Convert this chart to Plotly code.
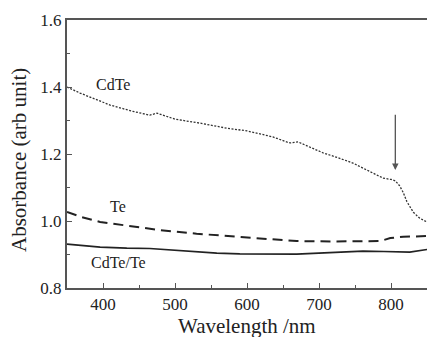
import plotly.graph_objects as go

# CdTe (dotted)
cdte_wl = [350, 368, 390, 410, 440, 465, 475, 500, 535, 572, 600, 636, 655, 660, 671,
           690, 706, 725, 747, 775, 789, 800, 806, 812, 817, 822, 831, 840, 850]
cdte_abs = [1.400, 1.382, 1.363, 1.346, 1.328, 1.316, 1.322, 1.304, 1.292, 1.277, 1.269,
            1.251, 1.236, 1.233, 1.236, 1.218, 1.203, 1.190, 1.173, 1.143, 1.128, 1.124,
            1.120, 1.105, 1.085, 1.058, 1.026, 1.008, 0.997]

# Te (dashed)
te_wl = [350, 370, 396, 430, 479, 530, 590, 630, 669, 720, 785, 799, 817, 850]
te_abs = [1.027, 1.012, 0.997, 0.988, 0.973, 0.962, 0.952, 0.945, 0.940, 0.939, 0.940,
          0.949, 0.953, 0.955]

# CdTe/Te (solid)
ct_wl = [350, 396, 433, 465, 558, 590, 669, 720, 761, 790, 826, 850]
ct_abs = [0.931, 0.922, 0.919, 0.918, 0.904, 0.902, 0.901, 0.905, 0.910, 0.909, 0.907, 0.915]

labels = ["CdTe", "Te", "CdTe/Te"]
label_x = [414, 421, 421]
label_y = [1.406, 1.042, 0.875]

arrow_x = 806
arrow_y_start = 1.322
arrow_y_end = 1.152

FONT = "Liberation Serif, Times New Roman, serif"
LINE = "#222222"

fig = go.Figure()
fig.add_trace(go.Scatter(x=cdte_wl, y=cdte_abs, mode="lines",
                         line=dict(color="#333333", width=1.3, dash="2px,1.5px")))
fig.add_trace(go.Scatter(x=te_wl, y=te_abs, mode="lines",
                         line=dict(color=LINE, width=2, dash="10px,6px")))
fig.add_trace(go.Scatter(x=ct_wl, y=ct_abs, mode="lines",
                         line=dict(color=LINE, width=1.6)))

for t, x, y in zip(labels, label_x, label_y):
    fig.add_annotation(x=x, y=y, text=t, showarrow=False,
                       font=dict(family=FONT, size=16, color="#222"))

fig.add_annotation(x=arrow_x, y=arrow_y_end, ax=arrow_x, ay=arrow_y_start,
                   xref="x", yref="y", axref="x", ayref="y", text="",
                   showarrow=True, arrowhead=2, arrowsize=1, arrowwidth=1.3,
                   arrowcolor="#555555")

# axis titles as paper-anchored annotations
fig.add_annotation(x=0.5, y=0, xref="paper", yref="paper", text="Wavelength /nm",
                   showarrow=False, xanchor="center", yanchor="middle", yshift=-38,
                   font=dict(family=FONT, size=21, color="#222"))
fig.add_annotation(x=0, y=0.5, xref="paper", yref="paper", text="Absorbance (arb unit)",
                   showarrow=False, textangle=-90, xanchor="center", yanchor="middle",
                   xshift=-48, yshift=-6, font=dict(family=FONT, size=21, color="#222"))

axis_common = dict(showgrid=False, zeroline=False, showline=True, linecolor="#555555",
                   linewidth=2, mirror=True, ticks="inside", ticklen=5, tickwidth=1.2,
                   tickcolor="#555555", automargin=False,
                   tickfont=dict(family=FONT, size=17, color="#222"))

fig.update_xaxes(range=[350, 850], dtick=100, tick0=400,
                 minor=dict(ticks="inside", ticklen=3, dtick=50, tick0=350, tickcolor="#555555"),
                 **axis_common)
fig.update_yaxes(range=[0.8, 1.6], dtick=0.2, tickformat=".1f",
                 minor=dict(ticks="inside", ticklen=3, dtick=0.1, tickcolor="#555555"),
                 **axis_common)

fig.update_layout(width=427, height=337, margin=dict(l=67, r=0, t=20, b=49),
                  plot_bgcolor="white", paper_bgcolor="white", showlegend=False)

# remove the page's default body margin so the figure sits at the window origin
fig.write_html("out.html", config={"displayModeBar": False},
               post_script="document.documentElement.style.overflow='hidden';"
                           "document.body.style.margin='0';"
                           "document.body.style.overflow='hidden';")
